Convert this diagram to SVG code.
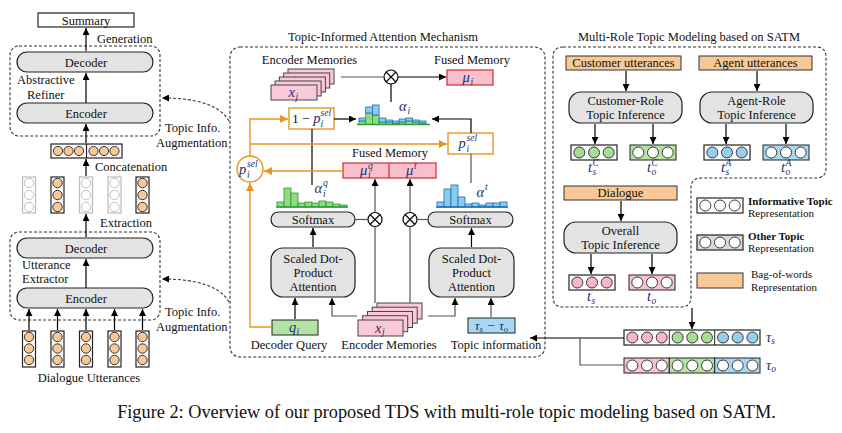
<svg xmlns="http://www.w3.org/2000/svg" width="842" height="433" viewBox="0 0 842 433">
<style>
.t{font-family:"Liberation Serif",serif;font-size:12.5px;fill:#111}
.c{text-anchor:middle}
.m{font-family:"Liberation Serif",serif;font-style:italic;font-size:14.5px;fill:#1f2f6f}
.s{font-family:"Liberation Serif",serif;font-style:italic;font-size:9.5px;fill:#1f2f6f}
.lg{font-family:"Liberation Serif",serif;font-size:11px;fill:#111}
.b{font-weight:bold}
.pill{fill:#e3e3e3;stroke:#222;stroke-width:1.2}
.box{fill:#fff;stroke:#222;stroke-width:1.2}
.dash{fill:none;stroke:#333;stroke-width:1.1;stroke-dasharray:3 2}
.ln{fill:none;stroke:#000;stroke-width:1.2}
.gl{fill:none;stroke:#555;stroke-width:1.2}
.or{fill:none;stroke:#e8961e;stroke-width:1.4}
.orb{fill:#fff;stroke:#e8961e;stroke-width:1.4}
.bow{fill:#f8c996;stroke:#333;stroke-width:1}
.oc{fill:#f8c996;stroke:#222;stroke-width:0.9}
.wc{fill:#fff;stroke:#222;stroke-width:0.9}
.gc{fill:#fff;stroke:#bbb;stroke-width:0.9}
.grc{fill:#a8dc96;stroke:#222;stroke-width:0.9}
.blc{fill:#99cdee;stroke:#222;stroke-width:0.9}
.pkc{fill:#f4b6c8;stroke:#222;stroke-width:0.9}
.pk{fill:#f9c9d9;stroke:#444;stroke-width:1}
.fm{fill:#f7c0cc;stroke:#d42a2a;stroke-width:1.2}
.vg{fill:#b5e3a5;stroke:#222;stroke-width:1}
.vb{fill:#a9d8f3;stroke:#222;stroke-width:1}
.vp{fill:#f7c5d2;stroke:#222;stroke-width:1}
.hg{fill:#8fdc7f;stroke:#2a9a3a;stroke-width:0.8}
.hb{fill:#8ccbf0;stroke:#1a6fb0;stroke-width:0.8}
.otimes{fill:#fff;stroke:#000;stroke-width:1.2}
</style>
<defs>
<marker id="ah" viewBox="0 0 10 10" refX="10" refY="5" markerWidth="7" markerHeight="7" markerUnits="userSpaceOnUse" orient="auto"><path d="M0,0 L10,5 L0,10 z" fill="#000"/></marker>
<marker id="aho" viewBox="0 0 10 10" refX="10" refY="5" markerWidth="8" markerHeight="8" markerUnits="userSpaceOnUse" orient="auto"><path d="M0,0 L10,5 L0,10 z" fill="#e8961e"/></marker>
</defs>
<rect width="842" height="433" fill="#fff"/>

<!-- ============ LEFT COLUMN ============ -->
<g id="summary"><rect class="box" x="38" y="13" width="96" height="14"/><text class="t c" x="86" y="24.5">Summary</text></g>
<g id="refiner">
<rect class="dash" x="10" y="46" width="150" height="90" rx="9"/>
<rect class="pill" x="17" y="52" width="136" height="20" rx="10"/><text class="t c" x="86" y="66.5">Decoder</text>
<rect class="pill" x="17" y="103" width="136" height="20" rx="10"/><text class="t c" x="86" y="117.5">Encoder</text>
<text class="t" x="17" y="84">Abstractive</text><text class="t" x="27" y="99">Refiner</text>
</g>
<g id="concat">
<rect class="box" x="51" y="144" width="71" height="14"/><line x1="86.5" y1="144" x2="86.5" y2="158" stroke="#222" stroke-width="1.2"/>
<circle class="oc" cx="58" cy="151" r="4.6"/><circle class="oc" cx="68.5" cy="151" r="4.6"/><circle class="oc" cx="79" cy="151" r="4.6"/>
<circle class="oc" cx="93.5" cy="151" r="4.6"/><circle class="oc" cx="104" cy="151" r="4.6"/><circle class="oc" cx="114.5" cy="151" r="4.6"/>
</g>
<g id="extracted">
<rect x="22.5" y="177" width="13" height="36" fill="#fff" stroke="#bbb" stroke-width="1.2"/><circle class="gc" cx="29" cy="183" r="4.7"/><circle class="gc" cx="29" cy="195" r="4.7"/><circle class="gc" cx="29" cy="207" r="4.7"/>
<rect class="box" x="51" y="177" width="13" height="36"/><circle class="oc" cx="57.5" cy="183" r="4.7"/><circle class="oc" cx="57.5" cy="195" r="4.7"/><circle class="oc" cx="57.5" cy="207" r="4.7"/>
<rect x="79.5" y="177" width="13" height="36" fill="#fff" stroke="#bbb" stroke-width="1.2"/><circle class="gc" cx="86" cy="183" r="4.7"/><circle class="gc" cx="86" cy="195" r="4.7"/><circle class="gc" cx="86" cy="207" r="4.7"/>
<rect x="108" y="177" width="13" height="36" fill="#fff" stroke="#bbb" stroke-width="1.2"/><circle class="gc" cx="114.5" cy="183" r="4.7"/><circle class="gc" cx="114.5" cy="195" r="4.7"/><circle class="gc" cx="114.5" cy="207" r="4.7"/>
<rect class="box" x="136" y="177" width="13" height="36"/><circle class="oc" cx="142.5" cy="183" r="4.7"/><circle class="oc" cx="142.5" cy="195" r="4.7"/><circle class="oc" cx="142.5" cy="207" r="4.7"/>
</g>
<g id="extractor">
<rect class="dash" x="10" y="232" width="150" height="88" rx="9"/>
<rect class="pill" x="17" y="238" width="136" height="20" rx="10"/><text class="t c" x="86" y="252.5">Decoder</text>
<rect class="pill" x="17" y="288" width="136" height="20" rx="10"/><text class="t c" x="86" y="302.5">Encoder</text>
<text class="t" x="22" y="269">Utterance</text><text class="t" x="22" y="283">Extractor</text>
</g>
<g id="utterances">
<rect class="box" x="22.5" y="331" width="13" height="36"/><circle class="oc" cx="29" cy="337" r="4.7"/><circle class="oc" cx="29" cy="348.5" r="4.7"/><circle class="oc" cx="29" cy="360" r="4.7"/>
<rect class="box" x="51" y="331" width="13" height="36"/><circle class="oc" cx="57.5" cy="337" r="4.7"/><circle class="oc" cx="57.5" cy="348.5" r="4.7"/><circle class="oc" cx="57.5" cy="360" r="4.7"/>
<rect class="box" x="79.5" y="331" width="13" height="36"/><circle class="oc" cx="86" cy="337" r="4.7"/><circle class="oc" cx="86" cy="348.5" r="4.7"/><circle class="oc" cx="86" cy="360" r="4.7"/>
<rect class="box" x="108" y="331" width="13" height="36"/><circle class="oc" cx="114.5" cy="337" r="4.7"/><circle class="oc" cx="114.5" cy="348.5" r="4.7"/><circle class="oc" cx="114.5" cy="360" r="4.7"/>
<rect class="box" x="136" y="331" width="13" height="36"/><circle class="oc" cx="142.5" cy="337" r="4.7"/><circle class="oc" cx="142.5" cy="348.5" r="4.7"/><circle class="oc" cx="142.5" cy="360" r="4.7"/>
<text class="t c" x="89" y="382">Dialogue Utterances</text>
</g>
<g id="left-labels">
<text class="t" x="97" y="43">Generation</text>
<text class="t" x="95" y="171">Concatenation</text>
<text class="t" x="100" y="227">Extraction</text>
<text class="t" x="165" y="132">Topic Info.</text><text class="t" x="156" y="147">Augmentation</text>
<text class="t" x="165" y="316">Topic Info.</text><text class="t" x="156" y="331">Augmentation</text>
</g>

<!-- ============ MIDDLE ============ -->
<g id="tiam">
<text class="t c" x="383" y="41">Topic-Informed Attention Mechanism</text>
<rect class="dash" x="230" y="47" width="315" height="310" rx="10"/>
</g>
<g id="enc-mem-top">
<text class="t c" x="309.5" y="64">Encoder Memories</text>
<rect class="pk" x="288" y="69" width="46" height="15"/>
<rect class="pk" x="283.7" y="73" width="46" height="15"/>
<rect class="pk" x="279.4" y="77" width="46" height="15"/>
<rect class="pk" x="275.1" y="81" width="46" height="15"/>
<rect class="pk" x="271" y="85" width="46" height="15"/>
<text class="m" x="288.5" y="97">x</text><text class="s" x="295.5" y="99.5">j</text>
</g>
<g id="otimes-top"><circle class="otimes" cx="391" cy="77" r="7"/><path d="M386,72 L396,82 M396,72 L386,82" stroke="#000" stroke-width="1.1"/></g>
<g id="fused-top">
<text class="t c" x="472" y="64">Fused Memory</text>
<rect class="fm" x="447" y="70" width="46" height="15"/>
<text class="m" x="462.5" y="82">μ</text><text class="s" x="470.5" y="84.5">i</text>
</g>
<g id="alpha-i">
<text class="m" x="399" y="111">α</text><text class="s" x="407.5" y="114">i</text>
<rect class="hg" x="359" y="121" width="6.7" height="3.5"/><rect class="hb" x="359" y="118" width="6.7" height="3"/>
<rect class="hg" x="365.7" y="113" width="6.7" height="11.5"/><rect class="hb" x="365.7" y="107" width="6.7" height="6"/>
<rect class="hg" x="372.4" y="115" width="6.7" height="9.5"/><rect class="hb" x="372.4" y="105" width="6.7" height="10"/>
<rect class="hg" x="379.1" y="122" width="6.7" height="2.5"/><rect class="hb" x="379.1" y="118" width="6.7" height="4"/>
<rect class="hg" x="385.8" y="122" width="6.7" height="2.5"/><rect class="hb" x="385.8" y="120" width="6.7" height="2"/>
<rect class="hg" x="392.5" y="123" width="6.7" height="1.5"/><rect class="hb" x="392.5" y="121" width="6.7" height="2"/>
<rect class="hg" x="399.2" y="122" width="6.7" height="2.5"/><rect class="hb" x="399.2" y="119" width="6.7" height="3"/>
<rect class="hg" x="405.9" y="121" width="6.7" height="3.5"/><rect class="hb" x="405.9" y="118" width="6.7" height="3"/>
<rect class="hg" x="412.6" y="122" width="6.7" height="2.5"/><rect class="hb" x="412.6" y="120" width="6.7" height="2"/>
<rect class="hg" x="419.3" y="123" width="6.7" height="1.5"/><rect class="hb" x="419.3" y="121" width="6.7" height="2"/>
<line x1="357" y1="124.5" x2="430" y2="124.5" stroke="#2a9a3a" stroke-width="1.3"/>
</g>
<g id="one-minus-p">
<rect class="orb" x="289" y="108" width="45" height="21"/>
<text class="t" x="292" y="123" style="font-size:13.5px">1 − <tspan class="m">p</tspan></text>
<text class="s" x="320.5" y="126.5">i</text><text class="s" x="320.5" y="116">sel</text>
</g>
<g id="p-sel-right">
<rect class="orb" x="448" y="133" width="45" height="21"/>
<text class="m" x="458.5" y="148">p</text><text class="s" x="466.5" y="151.5">i</text><text class="s" x="466.5" y="141">sel</text>
</g>
<g id="p-sel-circle">
<circle class="orb" cx="250" cy="169" r="13"/>
<text class="m" x="239" y="174">p</text><text class="s" x="247" y="177.5">i</text><text class="s" x="247" y="166.5">sel</text>
</g>
<g id="fused-mid">
<text class="t c" x="390" y="157">Fused Memory</text>
<rect class="fm" x="343" y="163" width="93" height="15"/><line x1="389" y1="163" x2="389" y2="178" stroke="#d42a2a" stroke-width="1.2"/>
<text class="m" x="360" y="175">μ</text><text class="s" x="368" y="178">i</text><text class="s" x="368" y="168.5">q</text>
<text class="m" x="406" y="175">μ</text><text class="s" x="414" y="169">t</text>
</g>
<g id="alpha-q">
<text class="m" x="314.5" y="193">α</text><text class="s" x="323" y="185.5">q</text><text class="s" x="323" y="196.5">i</text>
<rect class="hg" x="277" y="202" width="7" height="5"/>
<rect class="hg" x="284" y="188" width="7" height="19"/>
<rect class="hg" x="291" y="193" width="7" height="14"/>
<rect class="hg" x="298" y="203" width="7" height="4"/>
<rect class="hg" x="305" y="202" width="7" height="5"/>
<rect class="hg" x="312" y="203" width="7" height="4"/>
<rect class="hg" x="319" y="201" width="7" height="6"/>
<rect class="hg" x="326" y="202" width="7" height="5"/>
<rect class="hg" x="333" y="204" width="7" height="3"/>
<rect class="hg" x="340" y="205" width="7" height="2"/>
<line x1="276" y1="207" x2="348" y2="207" stroke="#2a9a3a" stroke-width="1.3"/>
</g>
<g id="alpha-t">
<text class="m" x="476.5" y="197">α</text><text class="s" x="485" y="189.5">t</text>
<rect class="hb" x="437" y="202" width="7" height="5"/>
<rect class="hb" x="444" y="189" width="7" height="18"/>
<rect class="hb" x="451" y="185" width="7" height="22"/>
<rect class="hb" x="458" y="197" width="7" height="10"/>
<rect class="hb" x="465" y="204" width="7" height="3"/>
<rect class="hb" x="472" y="203" width="7" height="4"/>
<rect class="hb" x="479" y="205" width="7" height="2"/>
<rect class="hb" x="486" y="203" width="7" height="4"/>
<rect class="hb" x="493" y="203" width="7" height="4"/>
<rect class="hb" x="500" y="202" width="7" height="5"/>
<line x1="436" y1="207" x2="508" y2="207" stroke="#1a6fb0" stroke-width="1.3"/>
</g>
<g id="softmax-left"><rect class="pill" x="271" y="212" width="84" height="15" rx="7.5"/><text class="t c" x="313" y="223.5">Softmax</text></g>
<g id="softmax-right"><rect class="pill" x="428" y="212" width="85" height="15" rx="7.5"/><text class="t c" x="470.5" y="223.5">Softmax</text></g>
<g id="otimes-left"><circle class="otimes" cx="375" cy="219.5" r="7"/><path d="M370,214.5 L380,224.5 M380,214.5 L370,224.5" stroke="#000" stroke-width="1.1"/></g>
<g id="otimes-right"><circle class="otimes" cx="410" cy="219.5" r="7"/><path d="M405,214.5 L415,224.5 M415,214.5 L405,224.5" stroke="#000" stroke-width="1.1"/></g>
<g id="sdpa-left"><rect class="pill" x="271" y="248" width="84" height="49" rx="12"/>
<text class="t c" x="313" y="263">Scaled Dot-</text><text class="t c" x="313" y="277">Product</text><text class="t c" x="313" y="291">Attention</text></g>
<g id="sdpa-right"><rect class="pill" x="429" y="248" width="85" height="49" rx="12"/>
<text class="t c" x="471.5" y="263">Scaled Dot-</text><text class="t c" x="471.5" y="277">Product</text><text class="t c" x="471.5" y="291">Attention</text></g>
<g id="query"><rect class="vg" x="272" y="320" width="46" height="15"/><text class="m" x="289" y="332">q</text><text class="s" x="296.5" y="334.5">i</text>
<text class="t c" x="289" y="349">Decoder Query</text></g>
<g id="enc-mem-bottom">
<rect class="pk" x="377" y="303" width="45" height="16"/>
<rect class="pk" x="372.2" y="307.2" width="45" height="16"/>
<rect class="pk" x="367.5" y="311.5" width="45" height="16"/>
<rect class="pk" x="362.7" y="315.7" width="45" height="16"/>
<rect class="pk" x="358" y="320" width="45" height="16"/>
<text class="m" x="375" y="332.5">x</text><text class="s" x="382" y="335">j</text>
<text class="t c" x="389" y="349">Encoder Memories</text>
</g>
<g id="topic-info"><rect class="vb" x="468" y="318" width="47" height="15"/>
<text class="m c" x="491.5" y="329.5" style="font-size:13.5px">τ<tspan dy="2" font-size="9">s</tspan><tspan dy="-2"> − τ</tspan><tspan dy="2" font-size="9">o</tspan></text>
<text class="t c" x="496" y="349">Topic information</text></g>

<!-- ============ RIGHT ============ -->
<g id="satm">
<text class="t c" x="689" y="41">Multi-Role Topic Modeling based on SATM</text>
<path class="dash" d="M563,47 L816,47 Q826,47 826,57 L826,168 Q826,178 816,178 L701,178 Q691,178 691,188 L691,297 Q691,307 681,307 L563,307 Q553,307 553,297 L553,57 Q553,47 563,47 Z"/>
</g>
<g id="customer-utt"><rect class="bow" x="566" y="56" width="115" height="14"/><text class="t c" x="623.5" y="67">Customer utterances</text></g>
<g id="agent-utt"><rect class="bow" x="699" y="56" width="113" height="14"/><text class="t c" x="755.5" y="67">Agent utterances</text></g>
<g id="customer-inf"><rect class="pill" x="569" y="92" width="113" height="31" rx="12"/><text class="t c" x="625.5" y="105">Customer-Role</text><text class="t c" x="625.5" y="119">Topic Inference</text></g>
<g id="agent-inf"><rect class="pill" x="700" y="92" width="113" height="31" rx="12"/><text class="t c" x="756.5" y="105">Agent-Role</text><text class="t c" x="756.5" y="119">Topic Inference</text></g>
<g id="tsC"><rect class="box" x="571" y="145" width="46" height="15"/><circle class="grc" cx="579.3" cy="152.5" r="5.5"/><circle class="grc" cx="594" cy="152.5" r="5.5"/><circle class="grc" cx="608.7" cy="152.5" r="5.5"/>
<text class="m" x="588" y="172">t</text><text class="s" x="592.5" y="175">s</text><text class="s" x="592.5" y="165.5">C</text></g>
<g id="toC"><rect class="vg" x="630" y="145" width="46" height="15"/><circle class="wc" cx="638.3" cy="152.5" r="5.5"/><circle class="wc" cx="653" cy="152.5" r="5.5"/><circle class="wc" cx="667.7" cy="152.5" r="5.5"/>
<text class="m" x="647" y="172">t</text><text class="s" x="651.5" y="175">o</text><text class="s" x="651.5" y="165.5">C</text></g>
<g id="tsA"><rect class="box" x="704" y="145" width="46" height="15"/><circle class="blc" cx="712.3" cy="152.5" r="5.5"/><circle class="blc" cx="727" cy="152.5" r="5.5"/><circle class="blc" cx="741.7" cy="152.5" r="5.5"/>
<text class="m" x="721" y="172">t</text><text class="s" x="725.5" y="175">s</text><text class="s" x="725.5" y="165.5">A</text></g>
<g id="toA"><rect class="vb" x="763" y="145" width="46" height="15"/><circle class="wc" cx="771.3" cy="152.5" r="5.5"/><circle class="wc" cx="786" cy="152.5" r="5.5"/><circle class="wc" cx="800.7" cy="152.5" r="5.5"/>
<text class="m" x="781" y="172">t</text><text class="s" x="785.5" y="175">o</text><text class="s" x="785.5" y="165.5">A</text></g>
<g id="dialogue"><rect class="bow" x="564" y="186" width="113" height="14"/><text class="t c" x="620.5" y="197">Dialogue</text></g>
<g id="overall-inf"><rect class="pill" x="564" y="222" width="113" height="31" rx="12"/><text class="t c" x="620.5" y="235">Overall</text><text class="t c" x="620.5" y="249">Topic Inference</text></g>
<g id="ts"><rect class="box" x="569" y="275" width="46" height="15"/><circle class="pkc" cx="577.3" cy="282.5" r="5.5"/><circle class="pkc" cx="592" cy="282.5" r="5.5"/><circle class="pkc" cx="606.7" cy="282.5" r="5.5"/>
<text class="m" x="587" y="301">t</text><text class="s" x="591.5" y="304">s</text></g>
<g id="to"><rect class="vp" x="629" y="275" width="46" height="15"/><circle class="wc" cx="637.3" cy="282.5" r="5.5"/><circle class="wc" cx="652" cy="282.5" r="5.5"/><circle class="wc" cx="666.7" cy="282.5" r="5.5"/>
<text class="m" x="647" y="301">t</text><text class="s" x="651.5" y="304">o</text></g>
<g id="legend">
<rect class="box" x="697" y="198" width="46" height="15"/><circle class="wc" cx="705.3" cy="205.5" r="5.5"/><circle class="wc" cx="720" cy="205.5" r="5.5"/><circle class="wc" cx="734.7" cy="205.5" r="5.5"/>
<text class="lg b" x="748" y="205">Informative Topic</text><text class="lg" x="748" y="217">Representation</text>
<rect x="697" y="235" width="46" height="15" fill="#d9d9d9" stroke="#222" stroke-width="1.2"/><circle class="wc" cx="705.3" cy="242.5" r="5.5"/><circle class="wc" cx="720" cy="242.5" r="5.5"/><circle class="wc" cx="734.7" cy="242.5" r="5.5"/>
<text class="lg b" x="748" y="240">Other Topic</text><text class="lg" x="748" y="252">Representation</text>
<rect class="bow" x="697" y="273" width="46" height="15"/>
<text class="lg" x="751" y="278">Bag-of-words</text><text class="lg" x="751" y="291">Representation</text>
</g>
<g id="tau-s"><rect class="box" x="624" y="330" width="136" height="15"/><line x1="669.3" y1="330" x2="669.3" y2="345" stroke="#222"/><line x1="714.7" y1="330" x2="714.7" y2="345" stroke="#222"/>
<circle class="pkc" cx="632.3" cy="337.5" r="5.5"/><circle class="pkc" cx="647" cy="337.5" r="5.5"/><circle class="pkc" cx="661.7" cy="337.5" r="5.5"/>
<circle class="grc" cx="677.6" cy="337.5" r="5.5"/><circle class="grc" cx="692.3" cy="337.5" r="5.5"/><circle class="grc" cx="707" cy="337.5" r="5.5"/>
<circle class="blc" cx="723" cy="337.5" r="5.5"/><circle class="blc" cx="737.7" cy="337.5" r="5.5"/><circle class="blc" cx="752.4" cy="337.5" r="5.5"/>
<text class="m" x="766" y="342">τ<tspan dy="2" font-size="9.5">s</tspan></text></g>
<g id="tau-o">
<rect class="vp" x="624" y="358" width="45.3" height="15"/><rect class="vg" x="669.3" y="358" width="45.4" height="15"/><rect class="vb" x="714.7" y="358" width="45.3" height="15"/>
<circle class="wc" cx="632.3" cy="365.5" r="5.5"/><circle class="wc" cx="647" cy="365.5" r="5.5"/><circle class="wc" cx="661.7" cy="365.5" r="5.5"/>
<circle class="wc" cx="677.6" cy="365.5" r="5.5"/><circle class="wc" cx="692.3" cy="365.5" r="5.5"/><circle class="wc" cx="707" cy="365.5" r="5.5"/>
<circle class="wc" cx="723" cy="365.5" r="5.5"/><circle class="wc" cx="737.7" cy="365.5" r="5.5"/><circle class="wc" cx="752.4" cy="365.5" r="5.5"/>
<text class="m" x="766" y="370">τ<tspan dy="2" font-size="9.5">o</tspan></text></g>

<!-- ============ CONNECTORS ============ -->
<g id="connectors">
<g class="ln" marker-end="url(#ah)">
<line x1="86" y1="51" x2="86" y2="28"/>
<line x1="86" y1="103" x2="86" y2="73"/>
<line x1="86" y1="143" x2="86" y2="124"/>
<line x1="86" y1="176" x2="86" y2="159"/>
<line x1="86" y1="237" x2="86" y2="214"/>
<line x1="86" y1="288" x2="86" y2="259"/>
<line x1="29" y1="330" x2="29" y2="309"/>
<line x1="57.5" y1="330" x2="57.5" y2="309"/>
<line x1="86" y1="330" x2="86" y2="309"/>
<line x1="114.5" y1="330" x2="114.5" y2="309"/>
<line x1="142.5" y1="330" x2="142.5" y2="309"/>
</g>
<path class="dash" d="M229,121 Q216,98 162,98" stroke-width="1.1" marker-end="url(#ah)"/>
<path class="dash" d="M229,302 Q216,279 162,279" stroke-width="1.1" marker-end="url(#ah)"/>
<line class="gl" x1="341" y1="77" x2="384" y2="77"/>
<line class="ln" x1="398" y1="77" x2="446" y2="77" marker-end="url(#ah)"/>
<line class="ln" x1="391" y1="84" x2="391" y2="102"/>
<line class="ln" x1="334" y1="119" x2="356" y2="119" marker-end="url(#ah)"/>
<path class="ln" d="M471,133 L471,119 L432,119" marker-end="url(#ah)"/>
<line class="ln" x1="312" y1="129" x2="312" y2="185"/>
<line class="gl" x1="471" y1="154" x2="471" y2="183"/>
<path class="or" d="M250,156 L250,119 L288,119" marker-end="url(#aho)"/>
<line class="or" x1="250" y1="144" x2="447" y2="144" marker-end="url(#aho)"/>
<line class="or" x1="343" y1="171" x2="264" y2="171" marker-end="url(#aho)"/>
<path class="or" d="M272,327 L250,327 L250,183" marker-end="url(#aho)"/>
<line class="gl" x1="355" y1="219.5" x2="368" y2="219.5"/>
<line class="gl" x1="417" y1="219.5" x2="428" y2="219.5"/>
<line class="gl" x1="375" y1="212.5" x2="375" y2="179" marker-end="url(#ah)"/>
<line class="gl" x1="410" y1="212.5" x2="410" y2="179" marker-end="url(#ah)"/>
<line class="gl" x1="375" y1="226.5" x2="375" y2="303"/>
<line class="gl" x1="410" y1="226.5" x2="410" y2="303"/>
<line class="ln" x1="313" y1="247" x2="313" y2="228" marker-end="url(#ah)"/>
<line class="ln" x1="471.5" y1="247" x2="471.5" y2="228" marker-end="url(#ah)"/>
<line class="ln" x1="295" y1="319" x2="295" y2="298" marker-end="url(#ah)"/>
<path class="gl" d="M357,316 L332,316 L332,298" marker-end="url(#ah)"/>
<path class="gl" d="M428,316 L455,316 L455,298" marker-end="url(#ah)"/>
<line class="gl" x1="491" y1="317" x2="491" y2="298" marker-end="url(#ah)"/>
<g class="ln" marker-end="url(#ah)">
<line x1="626" y1="71" x2="626" y2="91"/>
<line x1="757" y1="71" x2="757" y2="91"/>
<line x1="595" y1="124" x2="595" y2="144"/>
<line x1="653" y1="124" x2="653" y2="144"/>
<line x1="726" y1="124" x2="726" y2="144"/>
<line x1="786" y1="124" x2="786" y2="144"/>
<line x1="621" y1="201" x2="621" y2="221"/>
<line x1="591" y1="254" x2="591" y2="274"/>
<line x1="652" y1="254" x2="652" y2="274"/>
<line x1="692" y1="308" x2="692" y2="329"/>
<line x1="624" y1="338" x2="530" y2="338"/>
</g>
<path class="gl" d="M580,338 L580,365 L624,365"/>
</g>

<text x="446.5" y="418" text-anchor="middle" style="font-family:'Liberation Serif',serif;font-size:18.3px;fill:#111">Figure 2: Overview of our proposed TDS with multi-role topic modeling based on SATM.</text>
</svg>
